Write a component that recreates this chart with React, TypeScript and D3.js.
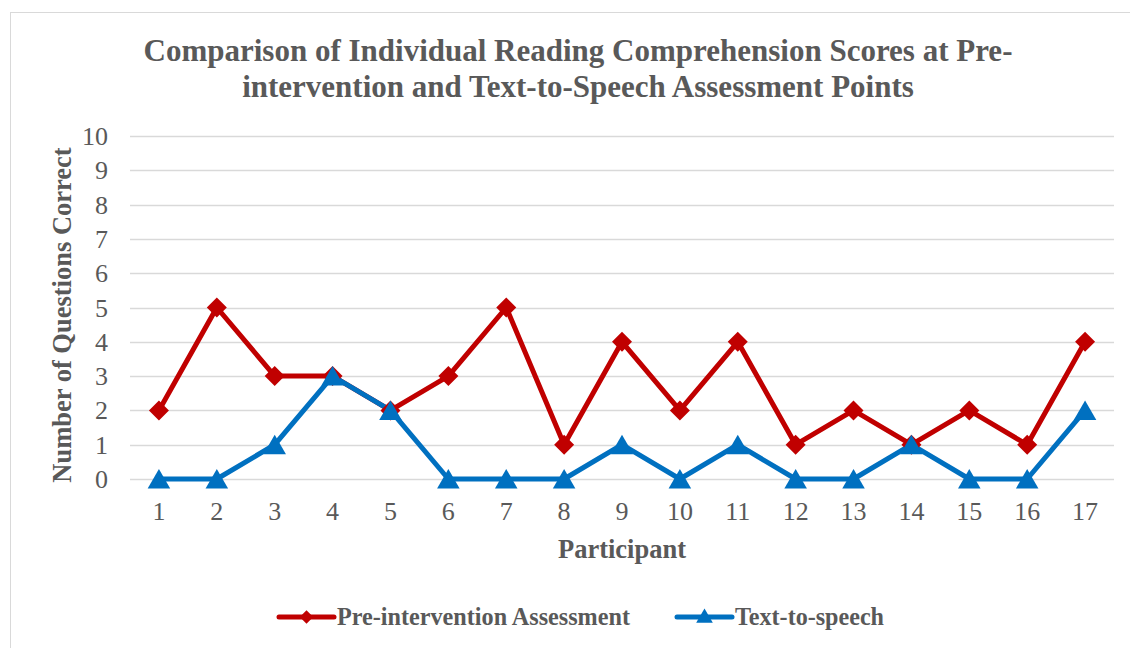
import { useRef, useEffect } from 'react'
import * as d3 from 'd3'

const participants = ['1', '2', '3', '4', '5', '6', '7', '8', '9', '10', '11', '12', '13', '14', '15', '16', '17']
const preIntervention = [2, 5, 3, 3, 2, 3, 5, 1, 4, 2, 4, 1, 2, 1, 2, 1, 4]
const textToSpeech = [0, 0, 1, 3, 2, 0, 0, 0, 1, 0, 1, 0, 0, 1, 0, 0, 2]
const yTicks = [0, 1, 2, 3, 4, 5, 6, 7, 8, 9, 10]

const W = 1130
const H = 648
const FONT = '"Liberation Serif", "Times New Roman", serif'
const GREY = '#595959'
const RED = '#C00000'
const BLUE = '#0070C0'

export default function App() {
  const svgRef = useRef<SVGSVGElement>(null)

  useEffect(() => {
    const svg = d3.select(svgRef.current)
    svg.selectAll('*').remove()

    svg.append('rect')
      .attr('x', 10.5).attr('y', 12.5)
      .attr('width', W + 10).attr('height', H + 10)
      .attr('fill', '#fff').attr('stroke', '#d9d9d9')

    const x = d3.scaleBand().domain(participants).range([130, 1114])
    const y = d3.scaleLinear().domain([0, 10]).range([479, 136])
    const cx = (i: number) => x(participants[i])! + x.bandwidth() / 2

    // title
    const title = svg.append('text')
      .attr('text-anchor', 'middle').attr('fill', GREY)
      .attr('font-family', FONT).attr('font-weight', 700).attr('font-size', 31)
    title.append('tspan').attr('x', 578).attr('y', 61)
      .text('Comparison of Individual Reading Comprehension Scores at Pre-')
    title.append('tspan').attr('x', 578).attr('y', 97)
      .text('intervention and Text-to-Speech Assessment Points')

    // grid
    svg.append('g').selectAll('line').data(yTicks).join('line')
      .attr('x1', 130).attr('x2', 1114)
      .attr('y1', (d) => Math.round(y(d)) + 0.5).attr('y2', (d) => Math.round(y(d)) + 0.5)
      .attr('stroke', '#d9d9d9').attr('stroke-width', 1.5)

    svg.append('g').selectAll('text').data(yTicks).join('text')
      .attr('x', 108).attr('y', (d) => y(d) + 9)
      .attr('text-anchor', 'end').attr('fill', GREY)
      .attr('font-family', FONT).attr('font-size', 26)
      .text((d) => d)

    svg.append('g').selectAll('text').data(participants).join('text')
      .attr('x', (_, i) => cx(i)).attr('y', 520)
      .attr('text-anchor', 'middle').attr('fill', GREY)
      .attr('font-family', FONT).attr('font-size', 26)
      .text((d) => d)

    svg.append('text')
      .attr('transform', 'translate(71,315) rotate(-90)')
      .attr('text-anchor', 'middle').attr('fill', GREY)
      .attr('font-family', FONT).attr('font-weight', 700).attr('font-size', 26.5)
      .text('Number of Questions Correct')

    svg.append('text')
      .attr('x', 622).attr('y', 558)
      .attr('text-anchor', 'middle').attr('fill', GREY)
      .attr('font-family', FONT).attr('font-weight', 700).attr('font-size', 26.5)
      .text('Participant')

    const line = d3.line<number>().x((_, i) => cx(i)).y((d) => y(d))
    const diamond = d3.symbol().type(d3.symbolSquare).size(200)
    const triangle = d3.symbol().type(d3.symbolTriangle).size(220)

    const series = [
      { values: preIntervention, color: RED, sym: diamond, rot: 45, dy: 0 },
      { values: textToSpeech, color: BLUE, sym: triangle, rot: 0, dy: 3 },
    ]
    series.forEach((s) => {
      svg.append('path').datum(s.values)
        .attr('d', line).attr('fill', 'none')
        .attr('stroke', s.color).attr('stroke-width', 5).attr('stroke-linejoin', 'round')
    })
    series.forEach((s) => {
      svg.append('g').selectAll('path').data(s.values).join('path')
        .attr('d', s.sym()!)
        .attr('transform', (d, i) => `translate(${cx(i)},${y(d) + s.dy}) rotate(${s.rot})`)
        .attr('fill', s.color)
    })

    // legend
    const legend = [
      { label: 'Pre-intervention Assessment', color: RED, x0: 279, len: 293, sym: d3.symbol().type(d3.symbolSquare).size(90), rot: 45, dy: 0 },
      { label: 'Text-to-speech', color: BLUE, x0: 677, len: 149, sym: d3.symbol().type(d3.symbolTriangle).size(120), rot: 0, dy: 1 },
    ]
    legend.forEach((l) => {
      svg.append('line')
        .attr('x1', l.x0).attr('x2', l.x0 + 55).attr('y1', 617).attr('y2', 617)
        .attr('stroke', l.color).attr('stroke-width', 5).attr('stroke-linecap', 'round')
      svg.append('path').attr('d', l.sym()!)
        .attr('transform', `translate(${l.x0 + 27.5},${617 + l.dy}) rotate(${l.rot})`)
        .attr('fill', l.color)
      svg.append('text')
        .attr('x', l.x0 + 58).attr('y', 625)
        .attr('fill', GREY).attr('font-family', FONT)
        .attr('font-weight', 700).attr('font-size', 26)
        .attr('textLength', l.len).attr('lengthAdjust', 'spacingAndGlyphs')
        .text(l.label)
    })
  }, [])

  return (
    <svg ref={svgRef} width={W} height={H}
      style={{ position: 'absolute', left: 0, top: 0, background: '#fff' }} />
  )
}
